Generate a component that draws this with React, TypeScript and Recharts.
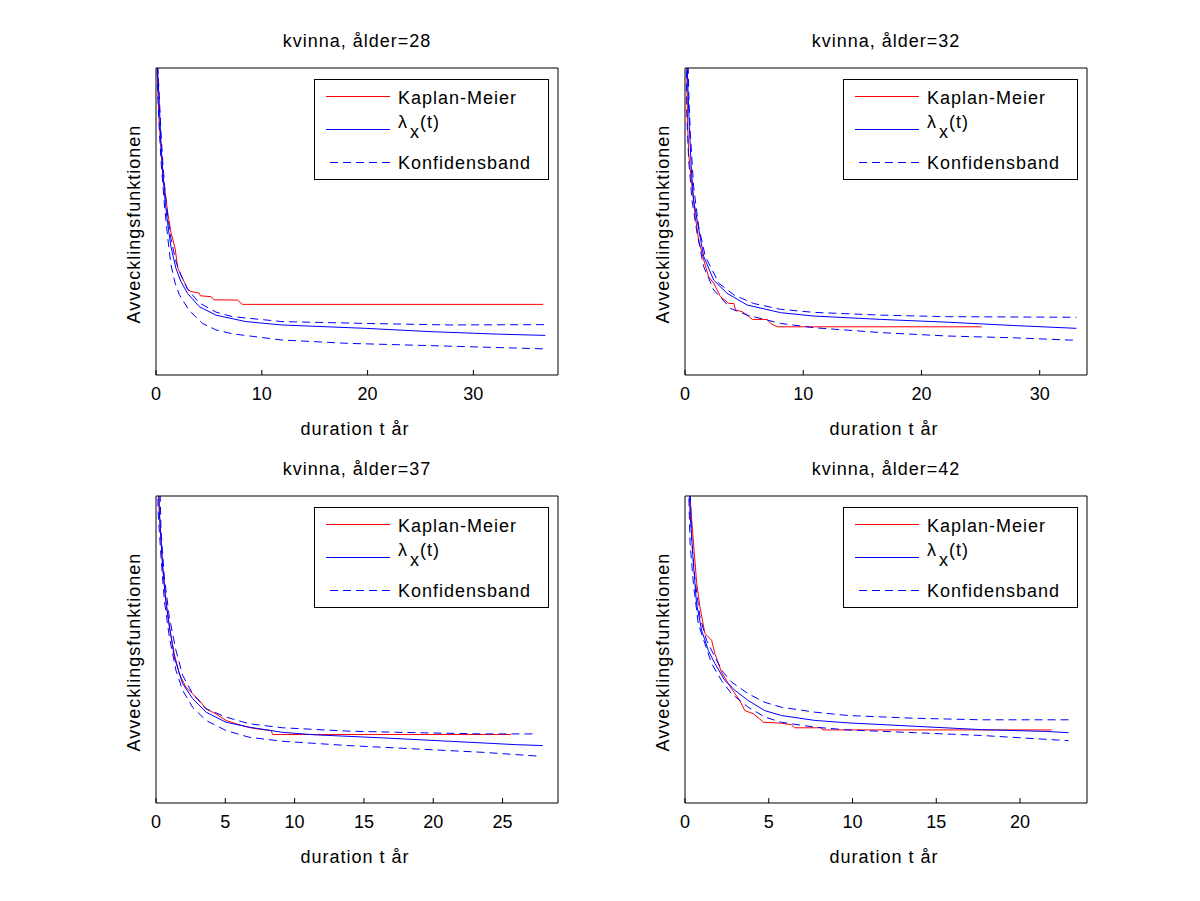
import React from 'react';
import { LineChart, Line, XAxis, YAxis } from 'recharts';

type Pt = [number, number];

const titles = ['kvinna, ålder=28', 'kvinna, ålder=32', 'kvinna, ålder=37', 'kvinna, ålder=42'];
const xMax = [38, 34, 29, 24];
const xTicks = [
  [0, 10, 20, 30],
  [0, 10, 20, 30],
  [0, 5, 10, 15, 20, 25],
  [0, 5, 10, 15, 20],
];

// ålder=28
const km28: Pt[] = [
  [0, 1.25], [0.1, 1.0], [0.2, 0.9], [0.31, 0.82], [0.47, 0.74], [0.62, 0.66], [0.85, 0.6], [1.0, 0.56],
  [1.1, 0.53], [1.41, 0.465], [1.6, 0.44], [1.82, 0.41], [2.04, 0.35], [2.3, 0.33], [2.51, 0.315], [2.98, 0.28],
  [3.3, 0.272], [4.08, 0.267], [4.2, 0.258], [5.19, 0.255], [5.5, 0.245], [7.7, 0.244], [8.17, 0.23], [36.6, 0.23],
];
const lam28: Pt[] = [
  [0, 1.6], [0.15, 1.0], [0.31, 0.885], [0.47, 0.755], [0.63, 0.668], [0.85, 0.57], [1.1, 0.494], [1.41, 0.418],
  [1.88, 0.348], [2.36, 0.304], [2.98, 0.266], [4.08, 0.223], [5.66, 0.195], [8.49, 0.174], [11.9, 0.163],
  [19.8, 0.152], [26.1, 0.141], [32.4, 0.133], [36.8, 0.129],
];
const upper28: Pt[] = [
  [0, 1.6], [0.15, 1.02], [0.31, 0.91], [0.47, 0.79], [0.63, 0.7], [0.85, 0.6], [1.1, 0.52], [1.41, 0.445],
  [1.88, 0.37], [2.36, 0.325], [2.98, 0.28], [4.08, 0.235], [5.66, 0.205], [7.23, 0.19], [11.9, 0.174],
  [19.8, 0.168], [27.7, 0.163], [36.8, 0.164],
];
const lower28: Pt[] = [
  [0, 1.5], [0.15, 0.93], [0.31, 0.8], [0.47, 0.7], [0.78, 0.56], [1.1, 0.45], [1.41, 0.36], [1.8, 0.3],
  [2.2, 0.262], [3.14, 0.21], [4.4, 0.168], [5.66, 0.147], [7.23, 0.134], [11.9, 0.114], [18.2, 0.103],
  [27.7, 0.094], [36.8, 0.085],
];

// ålder=32
const km32: Pt[] = [
  [0, 1.25], [0.17, 0.96], [0.22, 0.82], [0.31, 0.722], [0.59, 0.613], [0.87, 0.516], [1.16, 0.44], [1.58, 0.375],
  [2.0, 0.32], [2.43, 0.299], [3.0, 0.255], [3.7, 0.233], [4.13, 0.233], [4.27, 0.212], [4.84, 0.206], [5.26, 0.195],
  [5.7, 0.181], [6.96, 0.181], [7.24, 0.168], [7.8, 0.157], [25.1, 0.157],
];
const lam32: Pt[] = [
  [0, 1.6], [0.22, 0.961], [0.37, 0.809], [0.54, 0.668], [0.73, 0.57], [1.02, 0.505], [1.58, 0.386], [2.43, 0.309],
  [3.56, 0.266], [5.26, 0.228], [8.09, 0.203], [10.9, 0.192], [16.6, 0.181], [22.2, 0.172], [27.9, 0.161], [33.1, 0.152],
];
const upper32: Pt[] = [
  [0, 1.6], [0.31, 0.928], [0.45, 0.787], [0.73, 0.613], [1.16, 0.483], [1.72, 0.386], [2.86, 0.299], [4.13, 0.261],
  [5.8, 0.233], [8.09, 0.214], [10.9, 0.204], [16.6, 0.195], [22.2, 0.19], [33.1, 0.188],
];
const lower32: Pt[] = [
  [0, 1.5], [0.15, 0.85], [0.31, 0.7], [0.59, 0.57], [1.02, 0.462], [1.58, 0.353], [2.43, 0.277], [3.85, 0.217],
  [5.26, 0.195], [8.09, 0.168], [10.9, 0.154], [16.6, 0.138], [22.2, 0.127], [27.9, 0.121], [33.1, 0.113],
];

// ålder=37
const km37: Pt[] = [
  [0, 1.25], [0.24, 0.95], [0.48, 0.769], [0.72, 0.66], [0.96, 0.573], [1.32, 0.486], [1.68, 0.421], [2.16, 0.377],
  [2.64, 0.356], [3.12, 0.334], [3.61, 0.307], [4.33, 0.29], [5.05, 0.269], [5.77, 0.258], [6.61, 0.247],
  [7.21, 0.242], [8.3, 0.236], [8.42, 0.223], [25.6, 0.223],
];
const lam37: Pt[] = [
  [0, 1.6], [0.24, 0.95], [0.48, 0.77], [0.72, 0.65], [1.32, 0.475], [1.92, 0.389], [2.64, 0.34], [3.61, 0.296],
  [5.05, 0.263], [6.73, 0.247], [9.14, 0.23], [11.5, 0.222], [16.4, 0.212], [21.2, 0.201], [26.0, 0.19], [27.9, 0.187],
];
const upper37: Pt[] = [
  [0, 1.6], [0.36, 0.889], [0.6, 0.737], [0.96, 0.606], [1.44, 0.497], [1.92, 0.416], [2.64, 0.356], [3.61, 0.307],
  [5.05, 0.28], [6.73, 0.258], [9.14, 0.245], [13.9, 0.234], [18.8, 0.229], [23.6, 0.225], [27.5, 0.225],
];
const lower37: Pt[] = [
  [0, 1.5], [0.15, 0.95], [0.36, 0.802], [0.6, 0.66], [0.96, 0.541], [1.44, 0.432], [1.92, 0.367], [2.64, 0.312],
  [3.61, 0.269], [5.05, 0.236], [6.73, 0.214], [9.14, 0.201], [13.9, 0.187], [18.8, 0.176], [23.6, 0.165], [27.8, 0.152],
];

// ålder=42
const km42: Pt[] = [
  [0, 1.25], [0.3, 1.0], [0.4, 0.922], [0.54, 0.824], [0.7, 0.715], [0.89, 0.639], [1.19, 0.552], [1.59, 0.53],
  [1.79, 0.486], [2.18, 0.426], [2.78, 0.372], [3.27, 0.334], [3.57, 0.301], [4.07, 0.291], [4.46, 0.274],
  [4.66, 0.263], [5.75, 0.26], [6.35, 0.255], [6.55, 0.245], [8.13, 0.245], [8.23, 0.238], [21.9, 0.238],
];
const lam42: Pt[] = [
  [0, 1.6], [0.3, 0.95], [0.5, 0.78], [0.69, 0.65], [0.99, 0.563], [1.39, 0.497], [1.79, 0.454], [2.38, 0.399],
  [2.98, 0.367], [3.77, 0.334], [4.76, 0.301], [5.75, 0.285], [7.74, 0.269], [9.72, 0.261], [13.7, 0.25],
  [17.7, 0.239], [21.6, 0.233], [22.9, 0.229],
];
const upper42: Pt[] = [
  [0, 1.6], [0.4, 0.856], [0.6, 0.726], [0.89, 0.606], [1.29, 0.53], [1.79, 0.475], [2.28, 0.426], [2.78, 0.394],
  [3.77, 0.356], [4.76, 0.328], [5.75, 0.312], [7.74, 0.296], [9.72, 0.285], [13.7, 0.276], [17.7, 0.271], [22.9, 0.271],
];
const lower42: Pt[] = [
  [0, 1.5], [0.3, 0.85], [0.5, 0.715], [0.79, 0.584], [1.19, 0.519], [1.59, 0.454], [2.18, 0.399], [2.78, 0.356],
  [3.77, 0.312], [4.76, 0.28], [5.75, 0.263], [7.74, 0.247], [9.72, 0.238], [13.7, 0.229], [17.7, 0.22], [22.9, 0.203],
];

const FONT = '"Liberation Sans", Arial, Helvetica, sans-serif';
const RED = '#ff0000';
const BLUE = '#0000ff';
const DASH = '8 5';

const rows = (pts: Pt[]) => pts.map(([t, v]) => ({ t, v }));

interface PanelProps {
  title: string;
  max: number;
  ticks: number[];
  km: Pt[];
  lam: Pt[];
  upper: Pt[];
  lower: Pt[];
  left: number;
  top: number;
}

const txt = { fontFamily: FONT, fontSize: 18, fill: '#000', letterSpacing: 1 } as const;

function Panel({ title, max, ticks, km, lam, upper, lower, left, top }: PanelProps) {
  return (
    <div style={{ position: 'absolute', left, top, width: 600, height: 450 }}>
      <LineChart width={600} height={450} margin={{ top: 67, right: 41, bottom: 45, left: 155 }}>
        <XAxis
          dataKey="t"
          type="number"
          domain={[0, max]}
          ticks={ticks}
          interval={0}
          allowDataOverflow
          height={30}
          tickSize={-5}
          tickMargin={17}
          stroke="#000"
          tick={{ fill: '#000', fontSize: 18, fontFamily: FONT }}
        />
        {/* mirrored top axis, ticks only (MATLAB box) */}
        <XAxis
          xAxisId="top"
          dataKey="t"
          orientation="top"
          type="number"
          domain={[0, max]}
          ticks={ticks}
          interval={0}
          allowDataOverflow
          height={1}
          tickSize={-5}
          tick={false}
          stroke="#000"
        />
        <YAxis dataKey="v" type="number" domain={[0, 1]} allowDataOverflow width={1} tick={false} tickLine={false} stroke="#000" />
        <YAxis
          yAxisId="right"
          dataKey="v"
          orientation="right"
          type="number"
          domain={[0, 1]}
          allowDataOverflow
          width={1}
          tick={false}
          tickLine={false}
          stroke="#000"
        />
        <Line data={rows(km)} dataKey="v" type="linear" stroke={RED} strokeWidth={1} dot={false} isAnimationActive={false} />
        <Line data={rows(lam)} dataKey="v" type="linear" stroke={BLUE} strokeWidth={1} dot={false} isAnimationActive={false} />
        <Line
          data={rows(upper)}
          dataKey="v"
          xAxisId="top"
          yAxisId="right"
          type="linear"
          stroke={BLUE}
          strokeWidth={1}
          strokeDasharray={DASH}
          dot={false}
          isAnimationActive={false}
        />
        <Line
          data={rows(lower)}
          dataKey="v"
          xAxisId="top"
          yAxisId="right"
          type="linear"
          stroke={BLUE}
          strokeWidth={1}
          strokeDasharray={DASH}
          dot={false}
          isAnimationActive={false}
        />
      </LineChart>
      <svg width={600} height={450} style={{ position: 'absolute', left: 0, top: 0, pointerEvents: 'none' }}>
        <text x={357} y={47} textAnchor="middle" {...txt}>{title}</text>
        <text x={355} y={435} textAnchor="middle" {...txt}>duration t år</text>
        <text x={140} y={224} textAnchor="middle" transform="rotate(-90 140 224)" {...txt}>Avvecklingsfunktionen</text>
        <rect x={314.5} y={79.5} width={234} height={100} fill="#fff" stroke="#000" />
        <line x1={326} x2={390} y1={96.5} y2={96.5} stroke={RED} />
        <line x1={326} x2={390} y1={129.5} y2={129.5} stroke={BLUE} />
        <line x1={330} x2={390} y1={162.5} y2={162.5} stroke={BLUE} strokeDasharray={DASH} />
        <text x={398} y={104} {...txt}>Kaplan-Meier</text>
        <text x={398} y={128} {...txt}>λ</text>
        <text x={410} y={138} {...txt}>x</text>
        <text x={420} y={128} {...txt}>(t)</text>
        <text x={398} y={169} {...txt}>Konfidensband</text>
      </svg>
    </div>
  );
}

export default function App() {
  return (
    <div style={{ position: 'absolute', left: 0, top: 0, width: 1200, height: 901, background: '#fff' }}>
      <Panel title={titles[0]} max={xMax[0]} ticks={xTicks[0]} km={km28} lam={lam28} upper={upper28} lower={lower28} left={0} top={0} />
      <Panel title={titles[1]} max={xMax[1]} ticks={xTicks[1]} km={km32} lam={lam32} upper={upper32} lower={lower32} left={529} top={0} />
      <Panel title={titles[2]} max={xMax[2]} ticks={xTicks[2]} km={km37} lam={lam37} upper={upper37} lower={lower37} left={0} top={428} />
      <Panel title={titles[3]} max={xMax[3]} ticks={xTicks[3]} km={km42} lam={lam42} upper={upper42} lower={lower42} left={529} top={428} />
    </div>
  );
}
